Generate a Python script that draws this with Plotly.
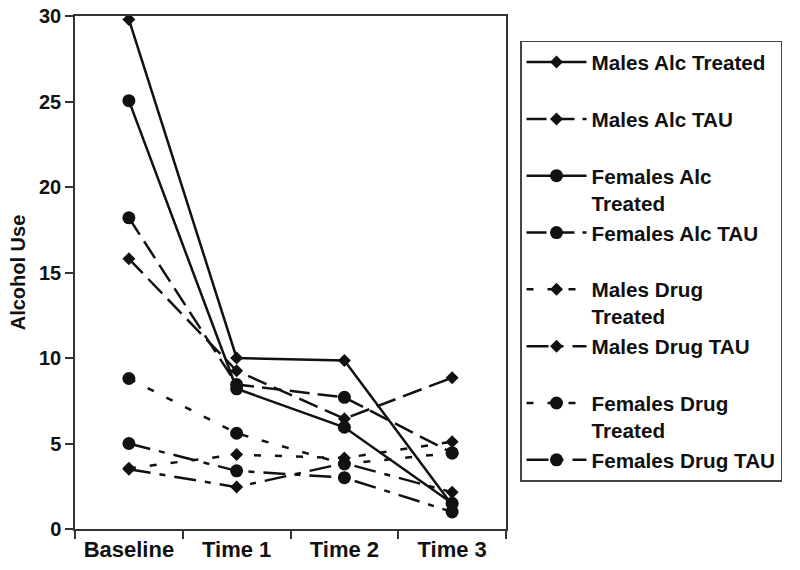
import plotly.graph_objects as go

categories = ["Baseline", "Time 1", "Time 2", "Time 3"]

males_alc_treated = [29.8, 10.0, 9.85, 1.4]
males_alc_tau = [15.8, 9.25, 6.45, 8.85]
females_alc_treated = [25.05, 8.2, 5.95, 1.5]
females_alc_tau = [18.2, 8.45, 7.7, 4.45]
males_drug_treated = [3.55, 4.35, 4.15, 5.1]
males_drug_tau = [3.5, 2.45, 3.85, 2.15]
females_drug_treated = [8.8, 5.6, 3.8, 4.45]
females_drug_tau = [5.0, 3.4, 3.0, 1.0]

y_ticks = [0, 5, 10, 15, 20, 25, 30]

LONG = "20px,8px"
SHORT = "7px,14px"
DASHDOT = "22px,9px,6px,9px"
INK = "#111111"

series = [
    ("Males Alc Treated<br> ", males_alc_treated, "diamond", "solid"),
    ("Males Alc TAU<br> ", males_alc_tau, "diamond", LONG),
    ("Females Alc<br>Treated", females_alc_treated, "circle", "solid"),
    ("Females Alc TAU<br> ", females_alc_tau, "circle", LONG),
    ("Males Drug<br>Treated", males_drug_treated, "diamond", SHORT),
    ("Males Drug TAU<br> ", males_drug_tau, "diamond", DASHDOT),
    ("Females Drug<br>Treated", females_drug_treated, "circle", SHORT),
    ("Females Drug TAU", females_drug_tau, "circle", DASHDOT),
]

fig = go.Figure()
for name, vals, sym, dash in series:
    fig.add_trace(go.Scatter(
        x=categories, y=vals, name=name, mode="lines+markers",
        line=dict(color=INK, width=2.5, dash=dash),
        marker=dict(symbol=sym, size=10 if sym == "diamond" else 13, color=INK),
    ))

FONT = "Liberation Sans, Arial, Helvetica, sans-serif"

fig.update_layout(
    width=800, height=570,
    margin=dict(l=75, r=294, t=16, b=41, autoexpand=False),
    paper_bgcolor="white", plot_bgcolor="white",
    font=dict(family=FONT, color=INK, weight="bold"),
    showlegend=True,
    legend=dict(
        x=1.0325, y=0.952, xanchor="left", yanchor="top",
        bordercolor="#444444", borderwidth=1.5,
        font=dict(family=FONT, size=20.7, color=INK, weight="bold"),
        itemwidth=60, valign="top", tracegroupgap=0, traceorder="normal",
    ),
    xaxis=dict(
        type="category", range=[-0.5, 3.5], tickson="boundaries",
        ticks="outside", ticklen=8,
        tickwidth=1.5, tickcolor="#333333", automargin=False,
        showline=True, linecolor="#333333", linewidth=1.5, mirror=True,
        showgrid=False, zeroline=False,
        tickfont=dict(family=FONT, size=22, color=INK, weight="bold"),
    ),
    yaxis=dict(
        range=[0, 30], tickvals=y_ticks, ticks="outside", ticklen=8,
        tickwidth=1.5, tickcolor="#333333", automargin=False,
        showline=True, linecolor="#333333", linewidth=1.5, mirror=True,
        showgrid=False, zeroline=False,
        tickfont=dict(family=FONT, size=20, color=INK, weight="bold"),
        title=dict(text="Alcohol Use", standoff=8,
                   font=dict(family=FONT, size=20, color=INK, weight="bold")),
    ),
)

fig.write_html("out.html", config={"displayModeBar": False},
               post_script="document.body.style.margin='0';")
